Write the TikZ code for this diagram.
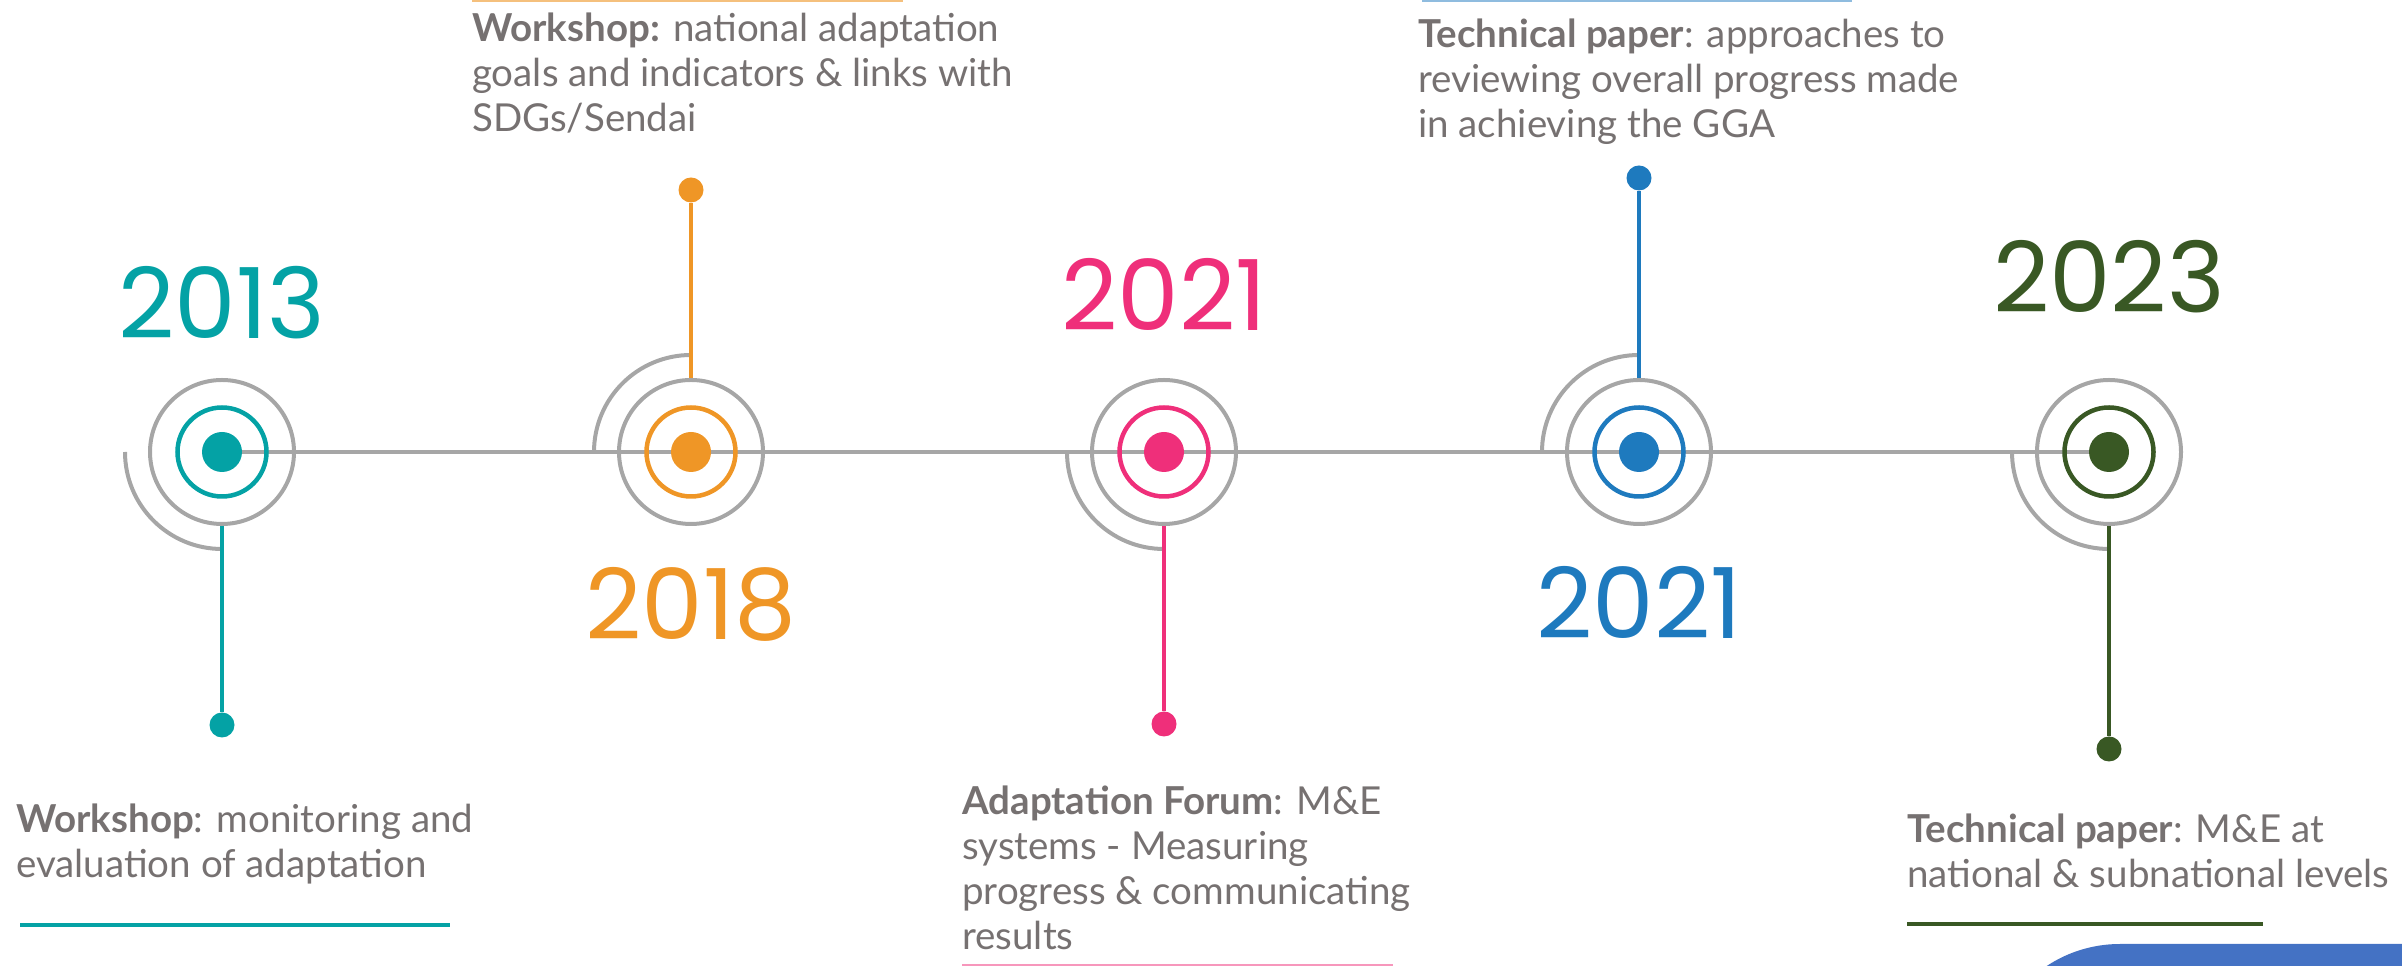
\documentclass[tikz,border=0pt]{standalone}
\usepackage{fontspec}
\setmainfont{Lato}
\newfontfamily\yearfont{Poppins}

\definecolor{tlgrey}{HTML}{A6A6A6}
\definecolor{tltext}{HTML}{767171}
\definecolor{tlteal}{HTML}{04A2A5}
\definecolor{tlorange}{HTML}{EF9626}
\definecolor{tlpink}{HTML}{EF2F7A}
\definecolor{tlblue}{HTML}{1E7ABE}
\definecolor{tlgreen}{HTML}{395824}
\definecolor{tlbutton}{HTML}{4472C4}

\tikzset{
  timeline/.style={draw=tlgrey, line width=3.5pt},
  halo/.style={circle, draw=tlgrey, line width=4pt, minimum size=144pt, inner sep=0pt},
  ring/.style={circle, line width=4.5pt, minimum size=89pt, inner sep=0pt},
  core/.style={circle, minimum size=40pt, inner sep=0pt},
  tip/.style={circle, minimum size=25pt, inner sep=0pt},
  stem/.style={line width=3.5pt},
  swirl/.style={draw=tlgrey, line width=4pt},
  year/.style={font=\yearfont\fontsize{98}{98}\selectfont, inner sep=0pt},
  desc/.style={font=\fontsize{38.5}{45}\selectfont, text=tltext, align=left, anchor=north west, inner sep=0pt},
  uline/.style={line width=4pt}
}

\begin{document}
\begin{tikzpicture}[x=1pt,y=1pt]
\useasboundingbox (0,0) rectangle (2402,966);
\clip (0,0) rectangle (2402,966);

% milestones on the line
\coordinate (c1) at (222,514);
\coordinate (c2) at (691,514);
\coordinate (c3) at (1164,514);
\coordinate (c4) at (1639,514);
\coordinate (c5) at (2109,514);
\draw[timeline] (c1) -- (c5);

% 2013
\node[halo] (h1) at (c1) {};
\node[ring, draw=tlteal] (r1) at (c1) {};
\node[core, fill=tlteal] (m1) at (c1) {};
\draw[swirl] (c1) ++(-97,0) arc (180:270:97);
\node[tip, fill=tlteal] (t1) at (222,241) {};
\draw[stem, tlteal] (h1) -- (t1);
\node[year, text=tlteal] (y1) at (222,663) {2013};
\node[desc] (d1) at (16,162) {\textbf{Workshop}: monitoring and\\evaluation of adaptation};
\draw[uline, tlteal] (20,41) -- (450,41);

% 2018
\node[halo] (h2) at (c2) {};
\node[ring, draw=tlorange] (r2) at (c2) {};
\node[core, fill=tlorange] (m2) at (c2) {};
\draw[swirl] (c2) ++(0,97) arc (90:180:97);
\node[tip, fill=tlorange] (t2) at (691,776) {};
\draw[stem, tlorange] (h2) -- (t2);
\node[year, text=tlorange] (y2) at (691,362) {2018};
\node[desc] (d2) at (472,953) {\textbf{Workshop:} national adaptation\\goals and indicators \& links with\\SDGs/Sendai};
\draw[uline, tlorange!60] (472,966) -- (903,966);

% 2021 (forum)
\node[halo] (h3) at (c3) {};
\node[ring, draw=tlpink] (r3) at (c3) {};
\node[core, fill=tlpink] (m3) at (c3) {};
\draw[swirl] (c3) ++(-97,0) arc (180:270:97);
\node[tip, fill=tlpink] (t3) at (1164,242) {};
\draw[stem, tlpink] (h3) -- (t3);
\node[year, text=tlpink] (y3) at (1164,672) {2021};
\node[desc] (d3) at (962,180) {\textbf{Adaptation Forum}: M\&E\\systems - Measuring\\progress \& communicating\\results};
\draw[uline, tlpink!50] (962,0) -- (1393,0);

% 2021 (paper)
\node[halo] (h4) at (c4) {};
\node[ring, draw=tlblue] (r4) at (c4) {};
\node[core, fill=tlblue] (m4) at (c4) {};
\draw[swirl] (c4) ++(0,97) arc (90:180:97);
\node[tip, fill=tlblue] (t4) at (1639,788) {};
\draw[stem, tlblue] (h4) -- (t4);
\node[year, text=tlblue] (y4) at (1639,364) {2021};
\node[desc] (d4) at (1418,947) {\textbf{Technical paper}: approaches to\\reviewing overall progress made\\in achieving the GGA};
\draw[uline, tlblue!50] (1422,966) -- (1852,966);

% 2023
\node[halo] (h5) at (c5) {};
\node[ring, draw=tlgreen] (r5) at (c5) {};
\node[core, fill=tlgreen] (m5) at (c5) {};
\draw[swirl] (c5) ++(-97,0) arc (180:270:97);
\node[tip, fill=tlgreen] (t5) at (2109,217) {};
\draw[stem, tlgreen] (h5) -- (t5);
\node[year, text=tlgreen] (y5) at (2109,689) {2023};
\node[desc] (d5) at (1907,152) {\textbf{Technical paper}: M\&E at\\national \& subnational levels};
\draw[uline, tlgreen] (1907,42) -- (2263,42);

% corner of the blue panel
\fill[tlbutton, rounded corners=133pt] (1987,-400) rectangle (2700,22);
\end{tikzpicture}
\end{document}
